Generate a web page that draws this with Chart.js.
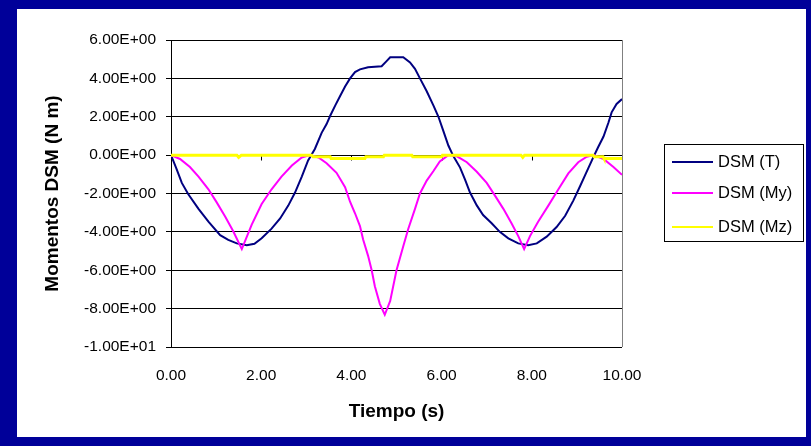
<!DOCTYPE html>
<html>
<head>
<meta charset="utf-8">
<script src="https://cdn.jsdelivr.net/npm/chart.js@4.4.1/dist/chart.umd.min.js"></script>
<style>
  html, body { margin: 0; padding: 0; }
  body { width: 811px; height: 446px; background: #000099; position: relative; overflow: hidden; }
  #panel { position: absolute; left: 17px; top: 9px; width: 789px; height: 428px; background: #ffffff; }
</style>
</head>
<body>
<div id="panel"><canvas id="chart" width="789" height="428"></canvas></div>
<script>
// values (time in s, moment in N m)
const seriesLabels = ['DSM (T)', 'DSM (My)', 'DSM (Mz)'];
const seriesColors = ['#000080', '#ff00ff', '#ffff00'];

const tT = [0, 0.12, 0.24, 0.38, 0.61, 0.83, 1.09, 1.27, 1.46, 1.68, 1.85, 2.01, 2.23, 2.42, 2.6, 2.75, 2.9, 3.04, 3.19, 3.34,
  3.45, 3.53, 3.64, 3.75, 3.86, 3.97, 4.08, 4.19, 4.37, 4.67, 4.78, 4.86, 5.15, 5.3, 5.41, 5.52, 5.67, 5.82, 5.93, 6.04,
  6.15, 6.26, 6.41, 6.52, 6.63, 6.78, 6.92, 7.11, 7.29, 7.48, 7.7, 7.92, 8.11, 8.33, 8.55, 8.74, 8.92, 9.07, 9.2, 9.36,
  9.47, 9.59, 9.7, 9.77, 9.88, 10];
const vT = [0, -0.7, -1.45, -2.03, -2.8, -3.47, -4.17, -4.42, -4.6, -4.7, -4.62, -4.33, -3.83, -3.3, -2.63, -1.95, -1.12, -0.28, 0.32, 1.16,
  1.62, 2.05, 2.58, 3.08, 3.58, 4.0, 4.33, 4.47, 4.58, 4.63, 4.9, 5.1, 5.1, 4.83, 4.5, 4.0, 3.33, 2.58, 2.0, 1.25,
  0.5, -0.05, -0.65, -1.28, -1.95, -2.62, -3.12, -3.55, -4.0, -4.34, -4.6, -4.7, -4.6, -4.25, -3.75, -3.16, -2.37, -1.62, -0.95, -0.13,
  0.41, 0.97, 1.7, 2.23, 2.67, 2.92];

const tMy = [0, 0.2, 0.42, 0.61, 0.83, 1.01, 1.2, 1.38, 1.57, 1.79, 2.01, 2.23, 2.45, 2.68, 2.9, 3.08, 3.27, 3.45, 3.67, 3.86,
  3.97, 4.08, 4.19, 4.26, 4.37, 4.45, 4.52, 4.63, 4.74, 4.86, 5.0, 5.15, 5.26, 5.41, 5.52, 5.67, 5.82, 5.96, 6.15, 6.33,
  6.56, 6.78, 7.0, 7.18, 7.37, 7.55, 7.7, 7.83, 7.96, 8.14, 8.37, 8.59, 8.81, 9.03, 9.22, 9.37, 9.59, 9.81, 10];
const vMy = [0, -0.2, -0.62, -1.12, -1.78, -2.45, -3.2, -3.97, -4.9, -3.62, -2.55, -1.78, -1.12, -0.54, -0.12, 0, -0.12, -0.42, -0.92, -1.67,
  -2.43, -3.03, -3.7, -4.4, -5.25, -6.0, -6.83, -7.75, -8.32, -7.6, -6.0, -4.75, -3.85, -2.8, -2.0, -1.33, -0.83, -0.33, 0, -0.05,
  -0.37, -0.87, -1.45, -2.1, -2.8, -3.55, -4.22, -4.9, -4.22, -3.47, -2.62, -1.78, -0.95, -0.37, -0.08, 0, -0.2, -0.62, -1.03];

const tMz = [0, 1.46, 1.5, 1.56, 3.12, 3.15, 3.53, 3.55, 4.3, 4.32, 4.71, 4.73, 5.34, 5.36, 6.0, 6.02, 7.76, 7.8, 7.84, 9.36, 9.38, 9.58, 9.6, 10];
const vMz = [0, 0, -0.12, 0, 0, -0.08, -0.08, -0.17, -0.17, -0.09, -0.09, 0, 0, -0.09, -0.09, 0, 0, -0.12, 0, 0, -0.08, -0.08, -0.17, -0.17];

const xTicks = [0, 2, 4, 6, 8, 10];

const FONT = "'Liberation Sans', Arial, sans-serif";

const toPoints = (ts, vs) => ts.map((t, i) => ({ x: t, y: vs[i] }));

const sci = (v) => {
  if (v === 0) return '0.00E+00';
  const e = Math.floor(Math.log10(Math.abs(v)) + 1e-9);
  const m = v / Math.pow(10, e);
  return m.toFixed(2) + 'E' + (e < 0 ? '-' : '+') + String(Math.abs(e)).padStart(2, '0');
};

// Excel-like extras: gray right border, tick marks on the zero line, boxed legend
const excelBits = {
  id: 'excelBits',
  beforeDatasetsDraw(chart) {
    const { ctx, chartArea, scales } = chart;
    const y0 = Math.round(scales.y.getPixelForValue(0)) + 0.5;
    ctx.save();
    ctx.strokeStyle = '#000000';
    ctx.lineWidth = 1;
    ctx.beginPath();
    xTicks.forEach((t) => {
      const x = Math.round(scales.x.getPixelForValue(t)) + 0.5;
      ctx.moveTo(x, y0);
      ctx.lineTo(x, y0 + 5);
    });
    ctx.stroke();
    ctx.strokeStyle = '#808080';
    ctx.beginPath();
    ctx.moveTo(Math.round(chartArea.right) + 0.5, chartArea.top);
    ctx.lineTo(Math.round(chartArea.right) + 0.5, chartArea.bottom);
    ctx.stroke();
    ctx.restore();
  },
  afterDraw(chart) {
    const { ctx } = chart;
    ctx.save();
    ctx.fillStyle = '#ffffff';
    ctx.fillRect(647, 135, 139, 97);
    ctx.strokeStyle = '#000000';
    ctx.lineWidth = 1;
    ctx.strokeRect(647.5, 135.5, 139, 97);
    ctx.font = `16.5px ${FONT}`;
    ctx.textBaseline = 'middle';
    ctx.textAlign = 'left';
    const rows = [153, 184, 218];
    chart.data.datasets.forEach((ds, i) => {
      ctx.strokeStyle = ds.borderColor;
      ctx.lineWidth = 2;
      ctx.beginPath();
      ctx.moveTo(655, rows[i]);
      ctx.lineTo(696, rows[i]);
      ctx.stroke();
      ctx.fillStyle = '#000000';
      ctx.fillText(ds.label, 701, rows[i]);
    });
    ctx.restore();
  }
};

const lineSet = (label, data, color, order, width) => ({
  label,
  data,
  borderColor: color,
  backgroundColor: color,
  borderWidth: width,
  pointRadius: 0,
  tension: 0,
  showLine: true,
  fill: false,
  order
});

new Chart(document.getElementById('chart'), {
  type: 'scatter',
  plugins: [excelBits],
  data: {
    datasets: [
      lineSet(seriesLabels[0], toPoints(tT, vT), seriesColors[0], 3, 2),
      lineSet(seriesLabels[1], toPoints(tMy, vMy), seriesColors[1], 2, 2),
      lineSet(seriesLabels[2], toPoints(tMz, vMz), seriesColors[2], 1, 3)
    ]
  },
  options: {
    responsive: false,
    animation: false,
    layout: { padding: { top: 31, right: 184, bottom: 0, left: 0 } },
    plugins: {
      legend: { display: false },
      tooltip: { enabled: false }
    },
    scales: {
      x: {
        type: 'linear',
        min: 0,
        max: 10,
        afterFit(scale) { scale.height = 90; },
        afterBuildTicks(scale) { scale.ticks = xTicks.map((value) => ({ value })); },
        ticks: {
          color: '#000000',
          padding: 19,
          maxRotation: 0,
          font: { family: FONT, size: 15.5 },
          callback: (v) => Number(v).toFixed(2)
        },
        grid: { display: false, drawTicks: false },
        border: { display: false },
        title: {
          display: true,
          text: 'Tiempo (s)',
          color: '#000000',
          font: { family: FONT, size: 19, weight: 'bold' },
          padding: { top: 0, bottom: 14 }
        }
      },
      y: {
        min: -10,
        max: 6,
        afterFit(scale) { scale.width = 154; },
        ticks: {
          stepSize: 2,
          color: '#000000',
          padding: 10,
          font: { family: FONT, size: 15.5 },
          callback: (v) => sci(v)
        },
        grid: { color: '#000000', lineWidth: 1, tickLength: 5, drawTicks: true },
        border: { display: true, color: '#000000', width: 1 },
        title: {
          display: true,
          text: 'Momentos DSM (N m)',
          color: '#000000',
          font: { family: FONT, size: 19, weight: 'bold' },
          padding: { top: 24, bottom: 0 }
        }
      }
    }
  }
});
</script>
</body>
</html>
